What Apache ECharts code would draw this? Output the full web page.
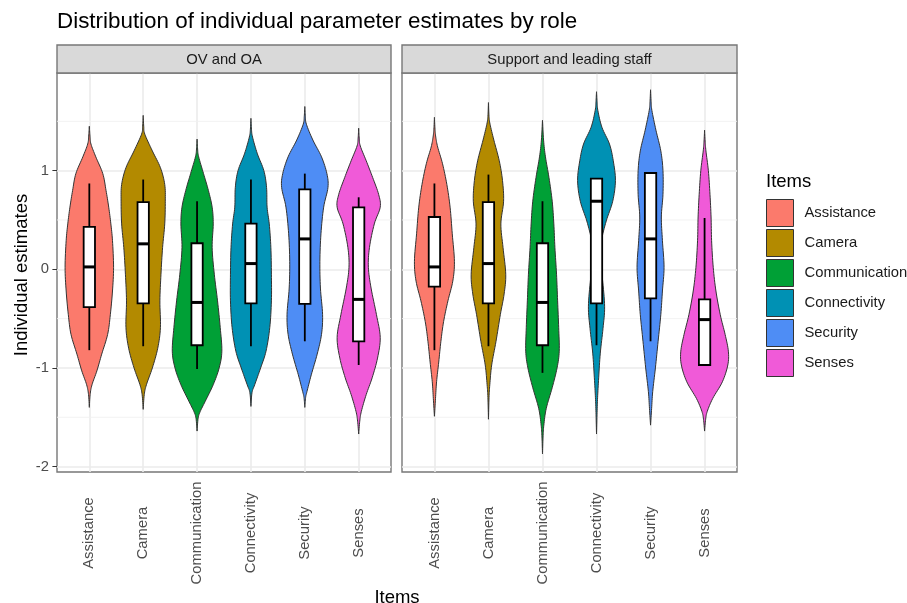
<!DOCTYPE html>
<html><head><meta charset="utf-8">
<script src="https://cdn.jsdelivr.net/npm/echarts@6/dist/echarts.min.js"></script>
<style>html,body{margin:0;padding:0;background:#fff}#c{width:907px;height:603px}</style>
</head><body><div id="c"></div>
<script>
const items = ['Assistance','Camera','Communication','Connectivity','Security','Senses'];
const roles = ['OV and OA','Support and leading staff'];
const itemColors = ['#FB7A6C','#B38A00','#00A036','#0091B4','#4E8DF5','#F05AD8'];
const yTickValues = [-2,-1,0,1];
const yMinorValues = [-1.5,-0.5,0.5,1.5];
const xTickValues = [1,2,3,4,5,6];

// violin outlines: [estimate, half-width in category units], top tip to bottom tip
const ovAssistance = [[1.45,0],[1.35,0.012],[1.27,0.03],[1.14,0.12],[0.97,0.25],[0.80,0.31],[0.63,0.36],[0.46,0.40],[0.29,0.43],[0.02,0.45],[-0.22,0.43],[-0.46,0.39],[-0.66,0.34],[-0.86,0.23],[-1.03,0.14],[-1.17,0.05],[-1.27,0.015],[-1.40,0]];
const ovCamera = [[1.56,0],[1.45,0.01],[1.37,0.03],[1.20,0.17],[1.03,0.32],[0.86,0.40],[0.69,0.41],[0.46,0.40],[0.22,0.36],[-0.05,0.33],[-0.32,0.31],[-0.59,0.32],[-0.80,0.27],[-1.0,0.17],[-1.17,0.06],[-1.27,0.02],[-1.42,0]];
const ovCommunication = [[1.32,0],[1.22,0.01],[1.14,0.03],[0.97,0.12],[0.80,0.21],[0.63,0.28],[0.46,0.30],[0.22,0.28],[-0.05,0.32],[-0.32,0.38],[-0.59,0.43],[-0.83,0.46],[-1.0,0.41],[-1.17,0.30],[-1.34,0.15],[-1.44,0.06],[-1.51,0.02],[-1.64,0]];
const ovConnectivity = [[1.53,0],[1.42,0.01],[1.34,0.03],[1.17,0.12],[1.0,0.24],[0.83,0.29],[0.63,0.30],[0.46,0.34],[0.22,0.37],[-0.05,0.38],[-0.32,0.38],[-0.59,0.35],[-0.83,0.28],[-1.0,0.18],[-1.17,0.07],[-1.25,0.02],[-1.39,0]];
const ovSecurity = [[1.65,0],[1.55,0.01],[1.47,0.03],[1.31,0.15],[1.14,0.31],[0.97,0.41],[0.83,0.43],[0.63,0.35],[0.36,0.30],[0.08,0.28],[-0.19,0.29],[-0.46,0.33],[-0.66,0.31],[-0.86,0.23],[-1.07,0.12],[-1.24,0.04],[-1.30,0.015],[-1.40,0]];
const ovSenses = [[1.43,0],[1.33,0.01],[1.25,0.03],[1.10,0.14],[0.93,0.26],[0.76,0.37],[0.63,0.40],[0.46,0.29],[0.22,0.20],[0.02,0.18],[-0.19,0.23],[-0.46,0.33],[-0.69,0.40],[-0.90,0.35],[-1.10,0.25],[-1.27,0.14],[-1.44,0.05],[-1.54,0.02],[-1.67,0]];

const spAssistance = [[1.54,0],[1.42,0.01],[1.34,0.025],[1.24,0.06],[1.07,0.15],[0.86,0.23],[0.63,0.29],[0.36,0.33],[0.08,0.37],[-0.12,0.34],[-0.32,0.25],[-0.53,0.17],[-0.73,0.12],[-0.94,0.08],[-1.14,0.04],[-1.31,0.02],[-1.49,0]];
const spCamera = [[1.69,0],[1.55,0.01],[1.47,0.03],[1.31,0.10],[1.10,0.20],[0.90,0.26],[0.69,0.28],[0.46,0.23],[0.22,0.27],[-0.05,0.32],[-0.25,0.29],[-0.46,0.22],[-0.73,0.14],[-0.97,0.06],[-1.17,0.025],[-1.30,0.01],[-1.52,0]];
const spCommunication = [[1.51,0],[1.31,0.02],[1.14,0.055],[0.93,0.12],[0.69,0.18],[0.46,0.21],[0.22,0.23],[-0.05,0.26],[-0.32,0.28],[-0.59,0.30],[-0.83,0.31],[-1.0,0.27],[-1.20,0.18],[-1.41,0.07],[-1.58,0.025],[-1.70,0.01],[-1.87,0]];
const spConnectivity = [[1.80,0],[1.70,0.01],[1.61,0.025],[1.44,0.10],[1.27,0.24],[1.10,0.31],[0.90,0.35],[0.69,0.30],[0.49,0.18],[0.29,0.09],[0.12,0.06],[-0.10,0.11],[-0.38,0.15],[-0.60,0.12],[-0.85,0.07],[-1.10,0.04],[-1.30,0.02],[-1.45,0.01],[-1.67,0]];
const spSecurity = [[1.82,0],[1.70,0.01],[1.61,0.025],[1.41,0.10],[1.20,0.19],[1.0,0.23],[0.76,0.23],[0.53,0.20],[0.29,0.22],[0.02,0.25],[-0.22,0.22],[-0.46,0.19],[-0.73,0.14],[-1.0,0.09],[-1.24,0.04],[-1.41,0.02],[-1.58,0]];
const spSenses = [[1.41,0],[1.30,0.01],[1.20,0.025],[1.0,0.07],[0.76,0.10],[0.53,0.12],[0.29,0.13],[0.02,0.16],[-0.22,0.21],[-0.46,0.29],[-0.66,0.38],[-0.83,0.44],[-0.97,0.43],[-1.14,0.33],[-1.31,0.15],[-1.44,0.05],[-1.52,0.02],[-1.64,0]];

// box stats: [lower whisker, Q1, median, Q3, upper whisker]
const boxOV = [[-0.82,-0.383,0.024,0.43,0.87],[-0.78,-0.346,0.258,0.68,0.91],[-1.01,-0.77,-0.336,0.264,0.69],[-0.78,-0.346,0.058,0.464,0.91],[-0.73,-0.35,0.308,0.81,0.97],[-0.97,-0.73,-0.305,0.627,0.73]];
const boxSupport = [[-0.82,-0.176,0.024,0.53,0.87],[-0.78,-0.346,0.058,0.68,0.96],[-1.05,-0.77,-0.336,0.264,0.69],[-0.77,-0.346,0.69,0.92,0.92],[-0.73,-0.295,0.308,0.976,0.976],[-0.97,-0.97,-0.51,-0.305,0.52]];

const violinsOV = [ovAssistance, ovCamera, ovCommunication, ovConnectivity, ovSecurity, ovSenses];
const violinsSupport = [spAssistance, spCamera, spCommunication, spConnectivity, spSecurity, spSenses];

const FONT = 'Liberation Sans, Arial, Helvetica, sans-serif';
const chart = echarts.init(document.getElementById('c'), null, {renderer: 'canvas'});

function catmull(pts, steps) {
  const out = [];
  for (let i = 0; i < pts.length - 1; i++) {
    const p0 = pts[Math.max(i - 1, 0)], p1 = pts[i], p2 = pts[i + 1], p3 = pts[Math.min(i + 2, pts.length - 1)];
    for (let s = 0; s < steps; s++) {
      const t = s / steps, t2 = t * t, t3 = t2 * t;
      const f = k => 0.5 * (2 * p1[k] + (-p0[k] + p2[k]) * t + (2 * p0[k] - 5 * p1[k] + 4 * p2[k] - p3[k]) * t2 + (-p0[k] + 3 * p1[k] - 3 * p2[k] + p3[k]) * t3);
      out.push([f(0), f(1)]);
    }
  }
  out.push(pts[pts.length - 1]);
  return out;
}

function violinSeries(name, color, profile, pos, g) {
  return {
    type: 'custom', name: name, xAxisIndex: g, yAxisIndex: g, z: 2,
    itemStyle: {color: color, borderColor: '#333', borderWidth: 1},
    data: [[pos, 0]],
    renderItem: function (params, api) {
      const x = api.value(0);
      const cx = api.coord([x, 0])[0];
      const right = catmull(profile.map(p => api.coord([x + p[1], p[0]])), 8)
        .map(p => [Math.max(p[0], cx), p[1]]);
      const left = right.slice(1, -1).reverse().map(p => [2 * cx - p[0], p[1]]);
      return {type: 'polygon', shape: {points: right.concat(left)},
        style: {fill: color, stroke: '#333', lineWidth: 1}};
    }
  };
}

function boxSeries(boxes, g) {
  return {
    type: 'custom', name: 'box' + g, xAxisIndex: g, yAxisIndex: g, z: 3,
    data: boxes.map((b, i) => [xTickValues[i]].concat(b)),
    renderItem: function (params, api) {
      const x = api.value(0);
      const lo = api.value(1), q1 = api.value(2), md = api.value(3), q3 = api.value(4), hi = api.value(5);
      const hw = 0.105;
      const a = api.coord([x, lo]), b = api.coord([x, q1]), c = api.coord([x, q3]), d = api.coord([x, hi]);
      const tl = api.coord([x - hw, q3]), br = api.coord([x + hw, q1]);
      const ml = api.coord([x - hw, md]), mr = api.coord([x + hw, md]);
      const st = {stroke: '#000', lineWidth: 1.8};
      return {type: 'group', children: [
        {type: 'line', shape: {x1: a[0], y1: a[1], x2: b[0], y2: b[1]}, style: st},
        {type: 'line', shape: {x1: c[0], y1: c[1], x2: d[0], y2: d[1]}, style: st},
        {type: 'rect', shape: {x: tl[0], y: tl[1], width: br[0] - tl[0], height: br[1] - tl[1]}, style: {fill: '#fff', stroke: '#000', lineWidth: 1.8}},
        {type: 'line', shape: {x1: ml[0], y1: ml[1], x2: mr[0], y2: mr[1]}, style: {stroke: '#000', lineWidth: 3}}
      ]};
    }
  };
}

function minorGridSeries(g) {
  return {
    type: 'custom', name: 'minor' + g, xAxisIndex: g, yAxisIndex: g, z: 1, silent: true,
    data: yMinorValues.map(v => [1, v]),
    renderItem: function (params, api) {
      const v = api.value(1);
      const p1 = api.coord([0.4, v]), p2 = api.coord([6.6, v]);
      return {type: 'line', shape: {x1: p1[0], y1: p1[1], x2: p2[0], y2: p2[1]}, style: {stroke: '#f0f0f0', lineWidth: 0.9}};
    }
  };
}

function xAxisDef(g) {
  return {
    type: 'value', gridIndex: g, min: 0.4, max: 6.6,
    axisLine: {show: false},
    axisTick: {show: true, length: 4.6, lineStyle: {color: '#333', width: 1}, customValues: xTickValues},
    axisLabel: {customValues: xTickValues, rotate: 90, align: 'center', verticalAlign: 'middle', margin: 61,
      color: '#4d4d4d', fontSize: 14.8, fontFamily: FONT, formatter: v => items[Math.round(v) - 1]},
    splitLine: {show: true, lineStyle: {color: '#ebebeb', width: 1.6}}
  };
}
function yAxisDef(g) {
  return {
    type: 'value', gridIndex: g, min: -2.055, max: 1.99,
    axisLine: {show: false},
    axisTick: {show: g === 0, length: 4.6, lineStyle: {color: '#333', width: 1}, customValues: yTickValues},
    axisLabel: {show: g === 0, customValues: yTickValues, margin: 8, color: '#4d4d4d', fontSize: 14.8, fontFamily: FONT},
    splitLine: {show: true, lineStyle: {color: '#ebebeb', width: 1.6}}
  };
}

const series = [];
items.forEach((it, i) => {
  series.push(violinSeries(it, itemColors[i], violinsOV[i], xTickValues[i], 0));
  series.push(violinSeries(it, itemColors[i], violinsSupport[i], xTickValues[i], 1));
});
series.push(boxSeries(boxOV, 0), boxSeries(boxSupport, 1), minorGridSeries(0), minorGridSeries(1));

const panels = [{left: 57, width: 334}, {left: 402, width: 335}];
const stripGraphics = [];
panels.forEach((p, i) => {
  stripGraphics.push({type: 'rect', shape: {x: p.left, y: 45, width: p.width, height: 28},
    style: {fill: '#d9d9d9', stroke: '#777', lineWidth: 1.4}, z: 10});
  stripGraphics.push({type: 'text', x: p.left + p.width / 2, y: 59.5, z: 11,
    style: {text: roles[i], fill: '#1a1a1a', font: '14.8px ' + FONT, align: 'center', verticalAlign: 'middle'}});
});

chart.setOption({
  animation: false,
  textStyle: {fontFamily: FONT},
  title: [
    {text: 'Distribution of individual parameter estimates by role', left: 57, top: 11, padding: 0,
      textStyle: {fontSize: 22.4, fontWeight: 'normal', color: '#000', fontFamily: FONT}},
    {text: 'Items', left: 766, top: 172, padding: 0,
      textStyle: {fontSize: 18.5, fontWeight: 'normal', color: '#000', fontFamily: FONT}}
  ],
  legend: {
    data: items, orient: 'vertical', left: 766, top: 199, padding: 0,
    itemWidth: 27, itemHeight: 27, itemGap: 2, icon: 'rect',
    itemStyle: {borderColor: '#333', borderWidth: 1},
    selectedMode: false,
    textStyle: {fontSize: 14.8, color: '#1a1a1a', fontFamily: FONT, padding: [0, 0, 0, 6]}
  },
  grid: panels.map(p => ({left: p.left, top: 73, width: p.width, height: 399, show: true,
    borderColor: '#777', borderWidth: 1.4, backgroundColor: '#fff', containLabel: false})),
  xAxis: [xAxisDef(0), xAxisDef(1)],
  yAxis: [yAxisDef(0), yAxisDef(1)],
  series: series,
  graphic: stripGraphics.concat([
    {type: 'text', x: 397, y: 598, style: {text: 'Items', fill: '#000', font: '18.5px ' + FONT, align: 'center', verticalAlign: 'middle'}},
    {type: 'text', x: 21.5, y: 275, rotation: Math.PI / 2,
      style: {text: 'Individual estimates', fill: '#000', font: '18.5px ' + FONT, align: 'center', verticalAlign: 'middle'}}
  ])
});
</script></body></html>
